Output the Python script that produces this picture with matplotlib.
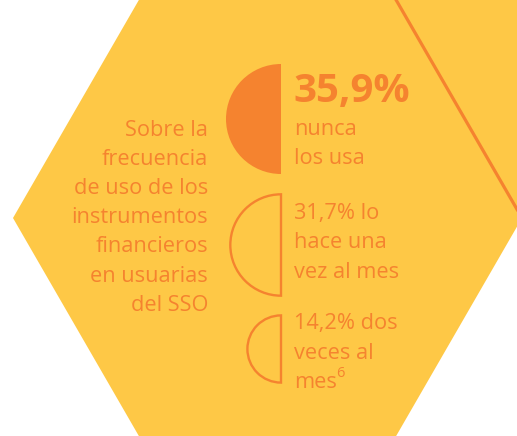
import matplotlib
matplotlib.use("Agg")
import matplotlib.pyplot as plt
from matplotlib.patches import Polygon, Wedge
import numpy as np

# ---- data ----
values = [35.9, 31.7, 14.2]
value_labels = ["35,9%", "31,7%", "14,2%"]
descriptions = [["nunca", "los usa"],
                ["lo", "hace una", "vez al mes"],
                ["dos", "veces al", "mes"]]
footnote = "6"
intro_lines = ["Sobre la", "frecuencia", "de uso de los", "instrumentos",
               "financieros", "en usuarias", "del SSO"]

YELLOW = "#FEC846"
ORANGE = "#F5832F"
FONT = ["Open Sans", "DejaVu Sans"]

W, H = 517, 436
fig = plt.figure(figsize=(W / 100, H / 100), dpi=100)
ax = fig.add_axes([0, 0, 1, 1])
ax.set_xlim(0, W)
ax.set_ylim(H, 0)
ax.axis("off")

# hexagon geometry
cx, cy, s = 267.5, 218, 254.5
h = s * np.sqrt(3) / 2
def hexagon(x0, y0):
    return [(x0 - s, y0), (x0 - s / 2, y0 - h), (x0 + s / 2, y0 - h),
            (x0 + s, y0), (x0 + s / 2, y0 + h), (x0 - s / 2, y0 + h)]

ax.add_patch(Polygon(hexagon(cx + 1.5 * s, cy - h), closed=True, fc=YELLOW, ec="none"))
ax.add_patch(Polygon(hexagon(cx, cy), closed=True, fc=YELLOW, ec="none"))
ax.plot([cx + s / 2, cx + s], [cy - h, cy], color=ORANGE, lw=2.3, solid_capstyle="butt")

# intro text
x_intro = 208
y0, dy = 130, 29.2
for i, line in enumerate(intro_lines):
    ax.text(x_intro, y0 + i * dy, line, ha="right", va="center", color=ORANGE,
            fontsize=15.7, family=FONT)

# half discs, area proportional to value
xc = 281
k = 55 / np.sqrt(values[0])
centers = [119, 245, 349]
for i, (v, yc) in enumerate(zip(values, centers)):
    r = k * np.sqrt(v)
    if i == 0:
        ax.add_patch(Wedge((xc, yc), r, 90, 270, fc=ORANGE, ec="none"))
    else:
        ax.add_patch(Wedge((xc, yc), r - 1, 90, 270, fc="none", ec=ORANGE, lw=1.7))

# right texts
xt = 294
ax.text(xt - 1, 91.5, value_labels[0], ha="left", va="center", color=ORANGE,
        fontsize=29, fontweight="bold", family=FONT)
ax.text(xt, 129, descriptions[0][0], ha="left", va="center", color=ORANGE, fontsize=15.7, family=FONT)
ax.text(xt, 158, descriptions[0][1], ha="left", va="center", color=ORANGE, fontsize=15.7, family=FONT)

ys2 = [213, 242.5, 272]
ax.text(xt, ys2[0], value_labels[1] + " " + descriptions[1][0], ha="left", va="center", color=ORANGE, fontsize=15.7, family=FONT)
ax.text(xt, ys2[1], descriptions[1][1], ha="left", va="center", color=ORANGE, fontsize=15.7, family=FONT)
ax.text(xt, ys2[2], descriptions[1][2], ha="left", va="center", color=ORANGE, fontsize=15.7, family=FONT)

ys3 = [323, 353, 382]
ax.text(xt, ys3[0], value_labels[2] + " " + descriptions[2][0], ha="left", va="center", color=ORANGE, fontsize=15.7, family=FONT)
ax.text(xt, ys3[1], descriptions[2][1], ha="left", va="center", color=ORANGE, fontsize=15.7, family=FONT)
t_mes = ax.text(xt, ys3[2], descriptions[2][2], ha="left", va="center", color=ORANGE, fontsize=15.7, family=FONT)

fig.canvas.draw()
bb = t_mes.get_window_extent()
x_end = ax.transData.inverted().transform((bb.x1, bb.y1))[0]
ax.text(x_end - 1, ys3[2] - 9, footnote, ha="left", va="center", color=ORANGE, fontsize=10.5, family=FONT)

fig.savefig("out.png", dpi=100, facecolor="white")
